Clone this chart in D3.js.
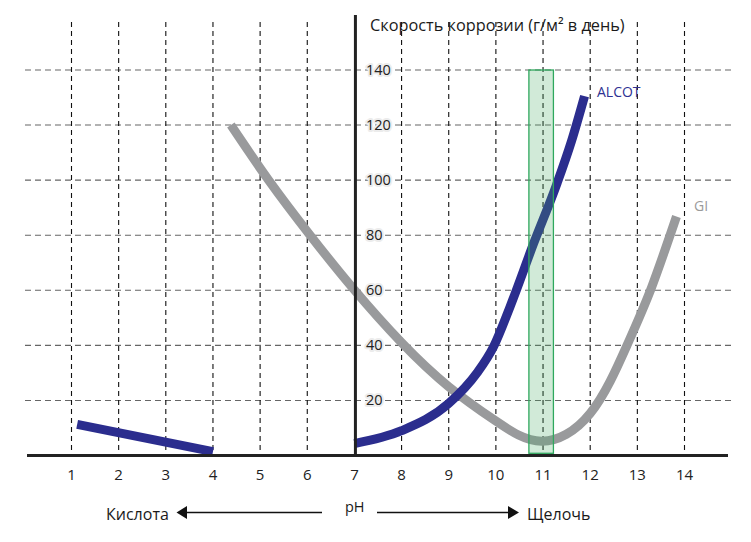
<!DOCTYPE html>
<html><head><meta charset="utf-8">
<script src="https://cdn.jsdelivr.net/npm/d3@7"></script>
<style>
body{margin:0;background:#fff;}
svg text{font-family:"Open Sans","Noto Sans",sans-serif;}
</style></head>
<body><svg id="c" width="751" height="542"></svg>
<script>
const phTicks = [1,2,3,4,5,6,7,8,9,10,11,12,13,14];
const rateTicks = [20,40,60,80,100,120,140];
const alcotAcid = [[1.12,11.3],[4.0,1.4]];
const alcotAlkaline = [[7,4.3],[8,9],[9,18.9],[9.6,30],[9.95,39.5],[10.3,54],[10.8,77],[11.3,99],[11.6,114],[11.88,130.5]];
const gi = [[4.38,120],[5.18,100],[6.06,80],[6.98,60.5],[8,41],[9,25],[10,12.5],[10.97,5.2],[12,15.3],[12.78,40],[13.3,61],[13.83,86.8]];
const band = [10.7, 11.22];
const title = "Скорость коррозии (г/м² в день)";

const svg = d3.select("#c");
const x = d3.scaleLinear().domain([1,14]).range([71.5,684.5]);
const y = d3.scaleLinear().domain([0,140]).range([455.5,70]);

// horizontal grid
svg.append("g").selectAll("line").data(rateTicks).join("line")
  .attr("x1",25).attr("x2",732).attr("y1",d=>y(d)).attr("y2",d=>y(d))
  .attr("stroke","#666").attr("stroke-width",1.1).attr("stroke-dasharray","6,4");
// vertical grid
svg.append("g").selectAll("line").data(phTicks.filter(d=>d!==7)).join("line")
  .attr("x1",d=>x(d)).attr("x2",d=>x(d)).attr("y1",22).attr("y2",455)
  .attr("stroke","#111").attr("stroke-width",1.1).attr("stroke-dasharray","5,4");

const giLine = d3.line().x(d=>x(d[0])).y(d=>y(d[1])).curve(d3.curveNatural);
const alLine = d3.line().x(d=>x(d[0])).y(d=>y(d[1])).curve(d3.curveMonotoneX);
svg.append("path").datum(gi).attr("d",giLine).attr("fill","none")
  .attr("stroke","#999a9c").attr("stroke-width",9);
svg.append("path").datum(alcotAcid).attr("d",d3.line().x(d=>x(d[0])).y(d=>y(d[1])))
  .attr("fill","none").attr("stroke","#2b2d8e").attr("stroke-width",9);
svg.append("path").datum(alcotAlkaline).attr("d",alLine).attr("fill","none")
  .attr("stroke","#2b2d8e").attr("stroke-width",9);

// band
svg.append("rect").attr("x",x(band[0])).attr("width",x(band[1])-x(band[0]))
  .attr("y",y(140)).attr("height",y(0.8)-y(140))
  .attr("fill","rgba(70,170,100,0.25)").attr("stroke","#2fa85e").attr("stroke-width",1.3);

// axes
svg.append("line").attr("x1",27).attr("x2",728).attr("y1",y(0)).attr("y2",y(0))
  .attr("stroke","#222").attr("stroke-width",3);
svg.append("line").attr("x1",x(7)+1).attr("x2",x(7)+1).attr("y1",15).attr("y2",y(0))
  .attr("stroke","#222").attr("stroke-width",3);

// x tick labels
svg.append("g").selectAll("text").data(phTicks).join("text")
  .attr("x",d=>x(d)).attr("y",480).attr("text-anchor","middle")
  .attr("font-size",15).attr("fill","#222").text(d=>d);
// y tick labels
svg.append("g").selectAll("text").data(rateTicks).join("text")
  .attr("x",366).attr("y",d=>y(d)+5).attr("font-size",14.5)
  .attr("fill","#222").attr("stroke","#ececec").attr("stroke-width",4)
  .attr("paint-order","stroke").attr("stroke-linejoin","round").text(d=>d);

svg.append("text").attr("x",370).attr("y",31).attr("font-size",16.3).attr("fill","#1a1a1a").text(title);

svg.append("text").attr("x",597).attr("y",97).attr("font-size",14).attr("fill","#2e3192").text("ALCOT");
svg.append("text").attr("x",694).attr("y",211).attr("font-size",14).attr("fill","#9a9a9a").text("GI");

// bottom arrows
svg.append("text").attr("x",106).attr("y",520).attr("font-size",16).attr("fill","#1a1a1a").text("Кислота");
svg.append("text").attr("x",345).attr("y",512).attr("font-size",14.5).attr("fill","#1a1a1a").text("pH");
svg.append("text").attr("x",527).attr("y",520).attr("font-size",16).attr("fill","#1a1a1a").text("Щелочь");
svg.append("line").attr("x1",186).attr("x2",322).attr("y1",512.5).attr("y2",512.5).attr("stroke","#111").attr("stroke-width",1.3);
svg.append("path").attr("d","M176.5,512.5 L187,506 L187,519 Z").attr("fill","#111");
svg.append("line").attr("x1",377).attr("x2",510).attr("y1",512.5).attr("y2",512.5).attr("stroke","#111").attr("stroke-width",1.3);
svg.append("path").attr("d","M519,512.5 L508,506 L508,519 Z").attr("fill","#111");
</script></body></html>
